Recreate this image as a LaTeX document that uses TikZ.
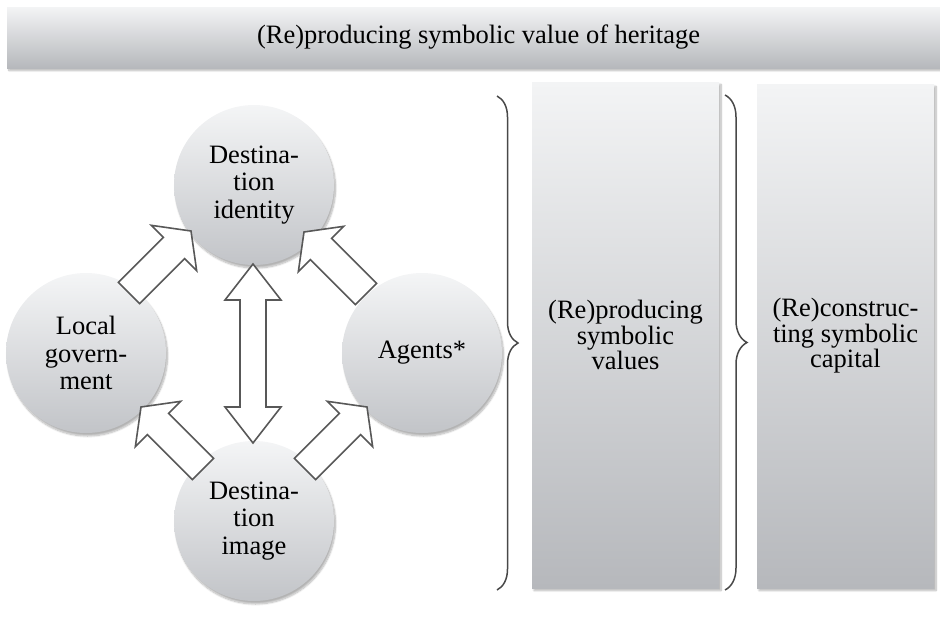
\documentclass[tikz,border=0pt]{standalone}
\usepackage{fontspec}
\setmainfont{Liberation Serif}
\usetikzlibrary{calc,shadows.blur,decorations.pathreplacing}

\definecolor{arrowline}{RGB}{88,88,88}
\definecolor{panelTop}{RGB}{243,244,245}
\definecolor{panelBot}{RGB}{182,184,188}
\definecolor{ballTop}{RGB}{244,245,246}
\definecolor{ballBot}{RGB}{194,196,200}
\definecolor{braceline}{RGB}{72,72,72}

\tikzset{
  panel/.style={rectangle, inner sep=0pt, top color=panelTop, bottom color=panelBot,
    align=center, font=\fontsize{26.5}{25.5}\selectfont,
    blur shadow={shadow xshift=2pt, shadow yshift=-2.5pt, shadow blur steps=8, shadow opacity=30}},
  ball/.style={circle, minimum size=160pt, inner sep=0pt, top color=ballTop, bottom color=ballBot,
    align=center, font=\fontsize{26.5}{27.5}\selectfont,
    blur shadow={shadow xshift=1.5pt, shadow yshift=-3pt, shadow blur steps=8, shadow opacity=30}},
  blockarrow/.style={draw=arrowline, fill=white, line width=1.6pt, line join=miter},
  bracket/.style={draw=braceline, line width=1.5pt, decorate,
    decoration={brace, amplitude=#1}},
}

% single block arrow from #1 (tail) to #2 (tip)
\newcommand{\blkarrow}[2]{%
  \coordinate (hb) at ($(#2)!24pt!(#1)$);
  \draw[blockarrow] ($(#1)!15pt!90:(#2)$) -- ($(hb)!15pt!90:(#2)$) -- ($(hb)!32pt!90:(#2)$)
    -- (#2) -- ($(hb)!32pt!-90:(#2)$) -- ($(hb)!15pt!-90:(#2)$) -- ($(#1)!15pt!-90:(#2)$) -- cycle;
}
% double-headed block arrow between #1 and #2
\newcommand{\blkdarrow}[2]{%
  \coordinate (hba) at ($(#1)!36pt!(#2)$);
  \coordinate (hbb) at ($(#2)!36pt!(#1)$);
  \draw[blockarrow] (#1) -- ($(hba)!28pt!90:(#2)$) -- ($(hba)!13pt!90:(#2)$)
    -- ($(hbb)!13pt!-90:(#1)$) -- ($(hbb)!28pt!-90:(#1)$) -- (#2)
    -- ($(hbb)!28pt!90:(#1)$) -- ($(hbb)!13pt!90:(#1)$)
    -- ($(hba)!13pt!-90:(#2)$) -- ($(hba)!28pt!-90:(#2)$) -- cycle;
}

\begin{document}
\begin{tikzpicture}[x=1pt,y=1pt]
  \useasboundingbox (0,0) rectangle (940,-627);

  % header bar
  \node[panel, minimum width=943pt, minimum height=61pt] (title) at (478.5,-37.5)
    {(Re)producing symbolic value of heritage};

  % right-hand columns
  \node[panel, minimum width=187pt, minimum height=506pt] (values) at (625.5,-335)
    {(Re)producing\\symbolic\\values};
  \node[panel, minimum width=177pt, minimum height=504pt] (capital) at (845.5,-336)
    {(Re)construc-\\ting symbolic\\capital};

  % the four actors
  \node[ball] (di)   at (254,-185) {Destina-\\tion\\identity};
  \node[ball] (lg)   at (86,-353)  {Local\\govern-\\ment};
  \node[ball] (ag)   at (422,-353) {Agents*};
  \node[ball] (dimg) at (254,-521) {Destina-\\tion\\image};

  % arrow anchor points
  \coordinate (ul-c) at ($(lg)!0.5!(di)+(-10,7)$);
  \coordinate (ul-s) at ($(ul-c)+(-31,-31)$);
  \coordinate (ul-t) at ($(ul-c)+(31,31)$);
  \coordinate (ur-c) at ($(ag)!0.5!(di)+(-3,6)$);
  \coordinate (ur-s) at ($(ur-c)+(31,-31)$);
  \coordinate (ur-t) at ($(ur-c)+(-31,31)$);
  \coordinate (ll-c) at ($(dimg)!0.5!(lg)+(2,-1)$);
  \coordinate (ll-s) at ($(ll-c)+(31,-31)$);
  \coordinate (ll-t) at ($(ll-c)+(-31,31)$);
  \coordinate (lr-c) at ($(dimg)!0.5!(ag)+(-2,-1)$);
  \coordinate (lr-s) at ($(lr-c)+(-31,-31)$);
  \coordinate (lr-t) at ($(lr-c)+(31,31)$);
  \coordinate (da-a) at ($(di.center)+(-1,-79)$);
  \coordinate (da-b) at ($(dimg.center)+(-1,78)$);

  \blkarrow{ul-s}{ul-t}
  \blkarrow{ur-s}{ur-t}
  \blkarrow{ll-s}{ll-t}
  \blkarrow{lr-s}{lr-t}
  \blkdarrow{da-a}{da-b}

  % grouping braces
  \draw[bracket=21pt] (497,-96) -- (497,-590);
  \draw[bracket=22pt] (725,-95) -- (725,-590);
\end{tikzpicture}
\end{document}
